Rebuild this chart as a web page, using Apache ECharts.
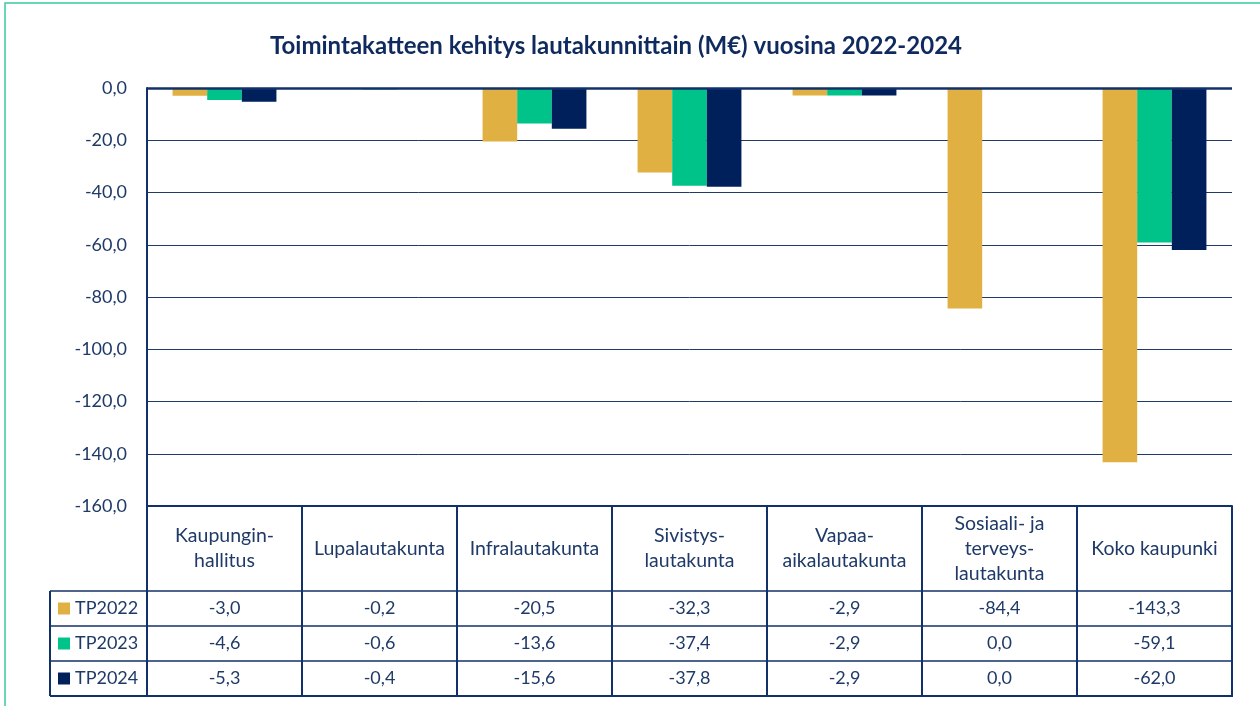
<!DOCTYPE html>
<html><head><meta charset="utf-8">
<script src="https://cdn.jsdelivr.net/npm/echarts@6/dist/echarts.min.js"></script>
<style>html,body{margin:0;padding:0;background:#fff}#c{width:1260px;height:706px}</style>
</head><body><div id="c"></div>
<script>
const categories = ['Kaupungin-\nhallitus','Lupalautakunta','Infralautakunta','Sivistys-\nlautakunta','Vapaa-\naikalautakunta','Sosiaali- ja\nterveys-\nlautakunta','Koko kaupunki'];
const seriesNames = ['TP2022','TP2023','TP2024'];
const tp2022 = [-3.0,-0.2,-20.5,-32.3,-2.9,-84.4,-143.3];
const tp2023 = [-4.6,-0.6,-13.6,-37.4,-2.9,0.0,-59.1];
const tp2024 = [-5.3,-0.4,-15.6,-37.8,-2.9,0.0,-62.0];
const allValues = [tp2022, tp2023, tp2024];
const colors = ['#E0B042','#00C389','#00205B'];

const FONT = 'Lato';
const TXT = '#1F3A68';
const LINE = '#1F3A68';
const G = {left:147, right:28, top:88, bottom:200};
const W = 1260, H = 706;
const gx0 = G.left, gx1 = W - G.right, gy1 = H - G.bottom;
const headerH = 85, rowH = 35;
const legendLeft = 50;

const fmt = v => v.toFixed(1).replace('.', ',');

const chart = echarts.init(document.getElementById('c'), null, {renderer:'canvas'});

const xAxes = [{
  type:'category', data:categories, gridIndex:0, position:'bottom',
  axisLine:{onZero:false, lineStyle:{color:'#12306A', width:2}},
  axisTick:{show:true, length:headerH + rowH*3, interval:0, lineStyle:{color:'#12306A', width:2}},
  axisLabel:{interval:0, color:TXT, fontFamily:FONT, fontSize:19.5, lineHeight:25, margin:headerH/2, verticalAlign:'middle', align:'center', hideOverlap:false},
  splitLine:{show:false}
}];
allValues.forEach((vals, i) => {
  xAxes.push({
    type:'category', data:categories, gridIndex:0, position:'bottom',
    offset: headerH + rowH*i + rowH/2,
    axisLine:{show:false, onZero:false}, axisTick:{show:false},
    axisLabel:{interval:0, color:TXT, fontFamily:FONT, fontSize:18, margin:0, verticalAlign:'middle', align:'center',
      formatter:(v, idx) => fmt(vals[idx])}
  });
});

const series = allValues.map((vals, i) => ({
  name: seriesNames[i], type:'bar', xAxisIndex:0, yAxisIndex:0,
  data: vals, itemStyle:{color:colors[i]},
  barGap:'0%', barCategoryGap:'33%',
  markLine: i === 0 ? {silent:true, symbol:['none','none'], label:{show:false},
    lineStyle:{color:'#12306A', width:2.5, type:'solid'}, data:[{yAxis:0}]} : undefined
}));

const graphics = [
  {type:'rect', shape:{x:5, y:3, width:1400, height:900}, style:{fill:'none', stroke:'#3CC8A0', lineWidth:1.5}, silent:true}
];
for (let r = 1; r <= 3; r++) {
  const y = gy1 + headerH + rowH*(r-1);
  graphics.push({type:'line', shape:{x1:legendLeft, y1:y, x2:gx1, y2:y}, style:{stroke:'#12306A', lineWidth:1.5}, silent:true});
}
graphics.push({type:'line', shape:{x1:legendLeft, y1:gy1+headerH+rowH*3, x2:gx1+1, y2:gy1+headerH+rowH*3}, style:{stroke:'#12306A', lineWidth:2}, silent:true});
graphics.push({type:'line', shape:{x1:legendLeft, y1:gy1+headerH, x2:legendLeft, y2:gy1+headerH+rowH*3}, style:{stroke:'#12306A', lineWidth:2}, silent:true});

chart.setOption({
  backgroundColor:'#ffffff',
  animation:false,
  title:{text:'Toimintakatteen kehitys lautakunnittain (M€) vuosina 2022-2024', left:611, textAlign:'center', top:29,
    textStyle:{color:'#0F2A5E', fontFamily:FONT, fontSize:24, fontWeight:'bold'}},
  legend:{orient:'vertical', left:58, top:gy1+headerH, padding:0, itemWidth:12, itemHeight:12, itemGap:0, icon:'rect',
    data:seriesNames, textStyle:{color:TXT, fontFamily:FONT, fontSize:18, lineHeight:rowH}, selectedMode:false},
  grid:{left:G.left, right:G.right, top:G.top, bottom:G.bottom, containLabel:false},
  xAxis: xAxes,
  yAxis:{type:'value', min:-160, max:0, interval:20,
    axisLine:{show:true, lineStyle:{color:'#12306A', width:2}},
    axisTick:{show:false},
    axisLabel:{color:TXT, fontFamily:FONT, fontSize:18, margin:20, formatter:v => fmt(v)},
    splitLine:{show:true, lineStyle:{color:LINE, width:1}}},
  series: series,
  graphic: graphics
});
</script></body></html>
